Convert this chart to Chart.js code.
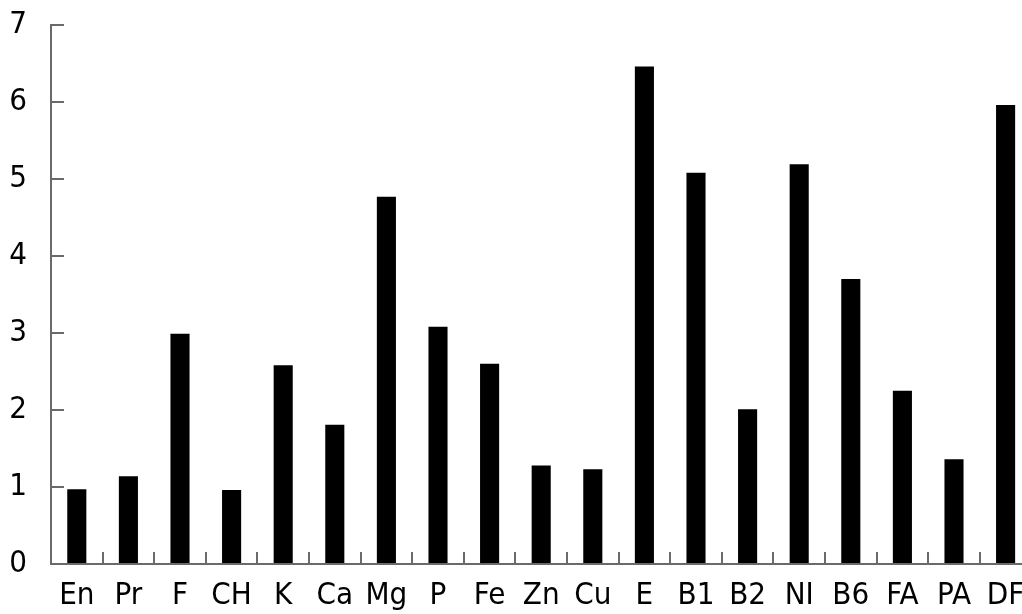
<!DOCTYPE html>
<html>
<head>
<meta charset="utf-8">
<script src="https://cdn.jsdelivr.net/npm/chart.js@4/dist/chart.umd.min.js"></script>
<style>
  html, body { margin: 0; padding: 0; background: #fff; overflow: hidden; width: 1022px; height: 614px; }
  #wrap { position: absolute; left: 0; top: 0; width: 1050px; height: 614px; }
</style>
</head>
<body>
<div id="wrap"><canvas id="c"></canvas></div>
<script>
const categories = ["En", "Pr", "F", "CH", "K", "Ca", "Mg", "P", "Fe", "Zn", "Cu", "E", "B1", "B2", "NI", "B6", "FA", "PA", "DF"];
const values = [0.97, 1.14, 2.99, 0.96, 2.58, 1.81, 4.77, 3.08, 2.60, 1.28, 1.23, 6.46, 5.08, 2.01, 5.19, 3.70, 2.25, 1.36, 5.96];
const yTicks = [0, 1, 2, 3, 4, 5, 6, 7];

const axisColor = '#6a6a6a';
const fontFamily = "'DejaVu Sans Condensed', 'DejaVu Sans', Verdana, sans-serif";

new Chart(document.getElementById('c'), {
  type: 'bar',
  data: {
    labels: categories,
    datasets: [{
      data: values,
      backgroundColor: '#000',
      borderWidth: 0,
      barPercentage: 0.37,
      categoryPercentage: 1.0
    }]
  },
  options: {
    responsive: true,
    maintainAspectRatio: false,
    animation: false,
    layout: { padding: { left: 0, right: 18.6, top: 25, bottom: 0 } },
    plugins: { legend: { display: false }, tooltip: { enabled: false } },
    scales: {
      x: {
        offset: true,
        grid: {
          offset: true,
          drawOnChartArea: false,
          drawTicks: true,
          tickLength: -12,
          color: axisColor,
          lineWidth: 2
        },
        border: { display: true, color: axisColor, width: 2 },
        ticks: {
          color: '#000',
          padding: 25,
          maxRotation: 0,
          autoSkip: false,
          font: { family: fontFamily, size: 31 }
        },
        afterFit: (s) => { s.height = 50; s.paddingLeft = 0; s.paddingRight = 0; }
      },
      y: {
        min: 0,
        max: 7,
        afterBuildTicks: (s) => { s.ticks = yTicks.map(v => ({ value: v })); },
        grid: {
          drawOnChartArea: false,
          drawTicks: true,
          tickLength: -13,
          color: axisColor,
          lineWidth: 2
        },
        border: { display: true, color: axisColor, width: 2 },
        ticks: {
          color: '#000',
          padding: 37,
          font: { family: fontFamily, size: 31 }
        },
        afterFit: (s) => { s.width = 51; s.paddingTop = 0; s.paddingBottom = 0; }
      }
    }
  }
});
</script>
</body>
</html>
